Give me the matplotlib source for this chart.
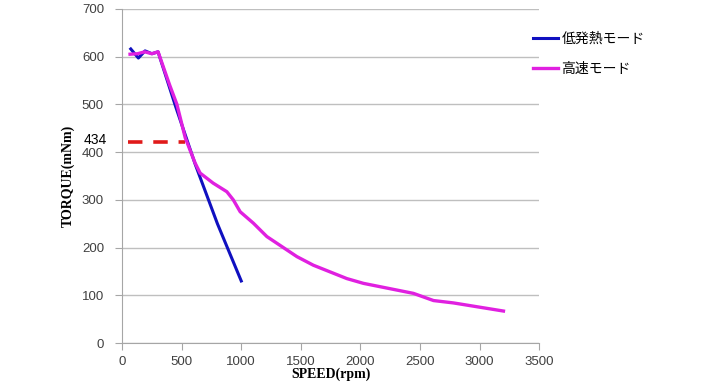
import matplotlib.pyplot as plt

# low-heat mode (blue)
low_rpm = [73, 137, 193, 250, 302, 450, 613, 800, 1000]
low_torque = [616, 597, 612, 606, 610, 495, 375, 250, 130]

# high-speed mode (magenta)
high_rpm = [67, 130, 190, 250, 302, 400, 460, 530, 613, 655, 764, 879, 933, 991,
            1102, 1215, 1383, 1467, 1605, 1886, 2025, 2445, 2613, 2781, 3200]
high_torque = [605, 606, 610, 606, 610, 540, 500, 430, 377, 356, 335, 317, 300, 275,
               251, 223, 195, 181, 163, 135, 125, 104, 89, 84, 67]

ref_rpm = [50, 530]
ref_torque = [421, 421]
ref_label = "434"

legend_labels = ["低発熱モード", "高速モード"]
yticks = list(range(0, 701, 100))
xticks = list(range(0, 3501, 500))

plt.rcParams['font.family'] = ['Noto Sans CJK JP', 'DejaVu Sans']

fig = plt.figure(figsize=(7.18, 3.85), dpi=100)
ax = fig.add_axes([0.170, 0.109, 0.581, 0.868])

ax.plot(ref_rpm, ref_torque, color='#e01a1a', lw=2.6, dashes=(4, 3), zorder=3)
l1, = ax.plot(low_rpm, low_torque, color='#1010c0', lw=2.2, zorder=4)
l2, = ax.plot(high_rpm, high_torque, color='#e020e0', lw=2.4, zorder=5)

ax.set_xlim(0, 3500)
ax.set_ylim(0, 700)
ax.set_xticks(xticks)
ax.set_yticks(yticks)
ax.grid(axis='y', color='#bfbfbf', lw=1)
ax.set_axisbelow(True)
for s in ['top', 'right']:
    ax.spines[s].set_visible(False)
for s in ['left', 'bottom']:
    ax.spines[s].set_color('#a6a6a6')
ax.tick_params(colors='#a6a6a6', length=5, labelcolor='#404040', labelsize=9.5)
ax.tick_params(axis='y', pad=8)
ax.tick_params(axis='x', pad=4)
for lab in ax.get_xticklabels() + ax.get_yticklabels():
    lab.set_family('Liberation Sans')

ax.annotate(ref_label, xy=(0, 421), xycoords=('axes fraction', 'data'),
            xytext=(-11, 1.5), textcoords='offset points', ha='right', va='center',
            fontsize=10, color='black', family='Liberation Sans')

ax.set_xlabel("SPEED(rpm)", family='Liberation Serif', fontweight='bold', fontsize=10,
              labelpad=0)
ax.set_ylabel("TORQUE(mNm)", family='Liberation Serif', fontweight='bold', fontsize=10,
              labelpad=5)

fig.legend([l1, l2], legend_labels, loc='upper left', bbox_to_anchor=(0.725, 0.95),
           frameon=False, fontsize=10, handlelength=1.8, handletextpad=0.25,
           labelspacing=1.15)

plt.savefig('out.png', dpi=100)
